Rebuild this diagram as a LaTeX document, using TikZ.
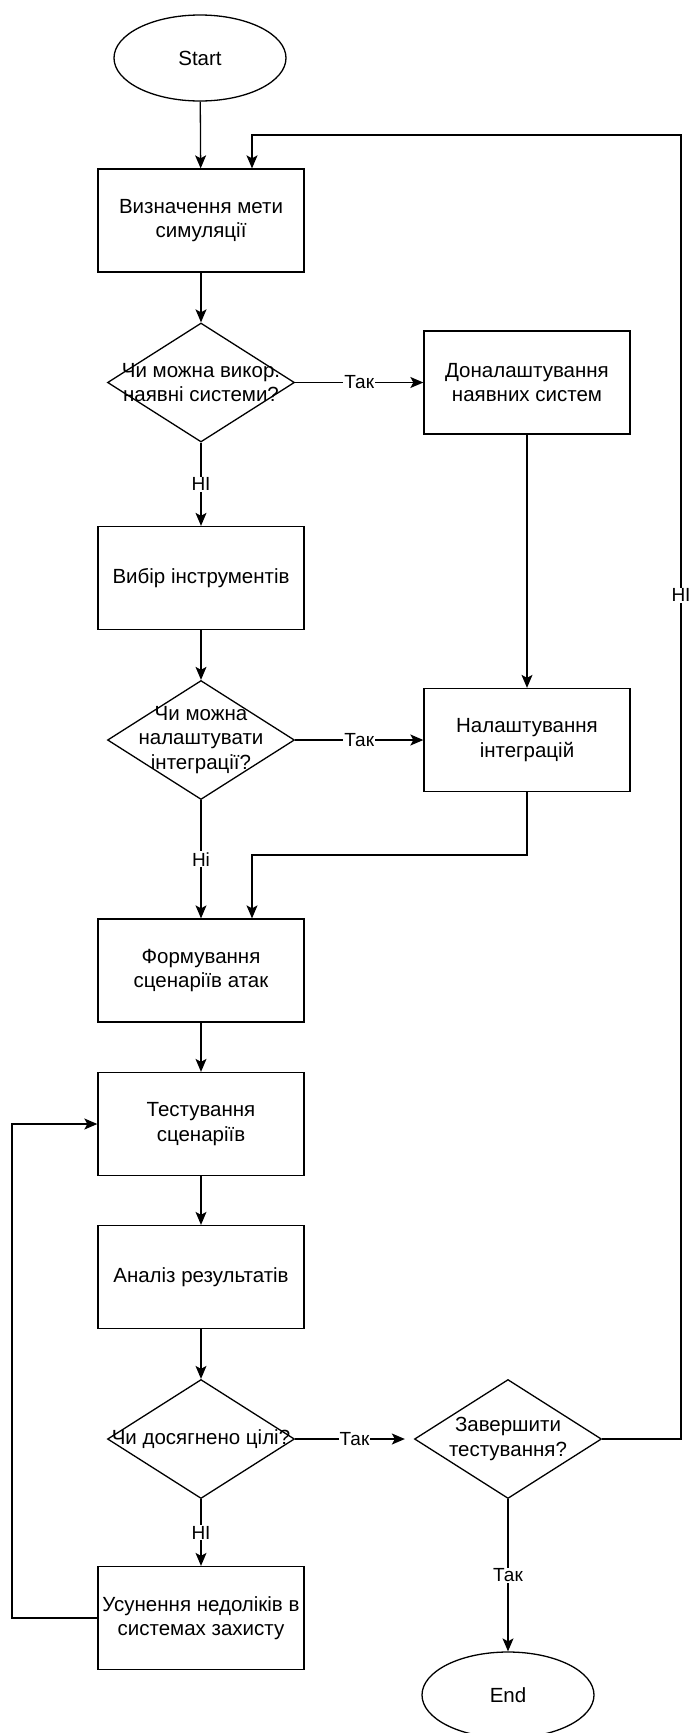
\documentclass[tikz,border=0pt]{standalone}
\usepackage{fontspec}
\setmainfont{Liberation Sans}
\usetikzlibrary{shapes.geometric,arrows.meta,calc}
\begin{document}
\begin{tikzpicture}[x=1pt,y=-1pt,
  line width=1.3pt,
  font=\fontsize{20.5}{24.6}\selectfont,
  proc/.style={draw, rectangle, minimum width=206pt, minimum height=103pt, inner sep=0pt, align=center},
  term/.style={draw, ellipse, minimum width=172pt, minimum height=86pt, inner sep=0pt},
  dec/.style={draw, diamond, minimum width=187pt, minimum height=119pt, inner sep=0pt},
  arr/.style={draw, -{Stealth[length=13pt,width=11pt,inset=3pt]}},
  lbl/.style={fill=white, inner sep=1pt, font=\fontsize{19}{22}\selectfont},
  dtxt/.style={align=center}
]
\useasboundingbox (0,0) rectangle (690,1733);

\node[term] (start) at (200,58) {Start};
\node[proc] (b1) at (201,220.5) {Визначення мети\\симуляції};
\node[dec, label={[dtxt]center:Чи можна викор.\\наявні системи?}] (d1) at (201,382.5) {};
\node[proc] (don) at (527,382.5) {Доналаштування\\наявних систем};
\node[proc] (vyb) at (201,578) {Вибір інструментів};
\node[dec, label={[dtxt]center:Чи можна\\налаштувати\\інтеграції?}] (d2) at (201,740) {};
\node[proc] (nal) at (527,740) {Налаштування\\інтеграцій};
\node[proc] (form) at (201,970.5) {Формування\\сценаріїв атак};
\node[proc] (test) at (201,1124) {Тестування\\сценаріїв};
\node[proc] (anal) at (201,1277) {Аналіз результатів};
\node[dec, label={[dtxt]center:Чи досягнено цілі?}] (d3) at (201,1439) {};
\node[dec, label={[dtxt]center:Завершити\\тестування?}] (d4) at (508,1439) {};
\node[proc] (usun) at (201,1618) {Усунення недоліків в\\системах захисту};
\node[term] (end) at (508,1695) {End};

\coordinate (r1) at (681,1439);
\coordinate (r2) at (681,135);
\coordinate (r3) at (252,135);
\coordinate (m1) at (527,855);
\coordinate (m2) at (252,855);
\coordinate (l1) at (12,1618);
\coordinate (l2) at (12,1124);

\draw[arr] (start) -- (b1);
\draw[arr] (d4.east) -- (r1) -- node[lbl,pos=0.647]{НІ} (r2) -- (r3) -- (r3 |- b1.north);
\draw[arr] (b1) -- (d1);
\draw[arr] (d1.east) -- node[lbl]{Так} (don.west);
\draw[arr] (d1.south) -- node[lbl]{НІ} (vyb.north);
\draw[arr] (don.south) -- (nal.north);
\draw[arr] (vyb) -- (d2);
\draw[arr] (d2.east) -- node[lbl]{Так} (nal.west);
\draw[arr] (d2.south) -- node[lbl]{Ні} (form.north);
\draw[arr] (nal.south) -- (m1) -- (m2) -- (m2 |- form.north);
\draw[arr] (form) -- (test);
\draw[arr] (test) -- (anal);
\draw[arr] (anal) -- (d3);
\draw[arr, shorten >=9pt] (d3.east) -- node[lbl]{Так} (d4.west);
\draw[arr] (d3.south) -- node[lbl]{НІ} (usun.north);
\draw[arr] (usun.west) -- (l1) -- (l2) -- (test.west);
\draw[arr] (d4.south) -- node[lbl]{Так} (end.north);
\end{tikzpicture}
\end{document}
